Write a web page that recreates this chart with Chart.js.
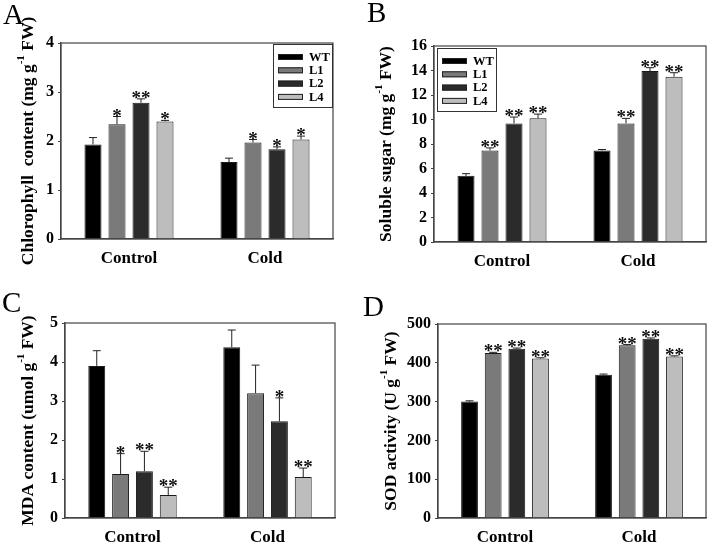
<!DOCTYPE html>
<html>
<head>
<meta charset="utf-8">
<script src="https://cdn.jsdelivr.net/npm/chart.js@4.4.1/dist/chart.umd.min.js"></script>
<style>
  body { margin: 0; background: #fff; }
  #wrap { position: relative; width: 709px; height: 542px; background: #fff; }
  canvas { position: absolute; }
</style>
</head>
<body>
<div id="wrap">
  <canvas id="chartA" width="354" height="271" style="left:0;top:0"></canvas>
  <canvas id="chartB" width="355" height="271" style="left:354px;top:0"></canvas>
  <canvas id="chartC" width="354" height="271" style="left:0;top:271px"></canvas>
  <canvas id="chartD" width="355" height="271" style="left:354px;top:271px"></canvas>
</div>
<script>
// datos comunes
const categories = ['Control', 'Cold'];
const lines = ['WT', 'L1', 'L2', 'L4'];
const lineColors = ['#000000', '#7a7a7a', '#2b2b2b', '#bdbdbd'];

// A - clorofila
const chlMean = { WT: [1.93, 1.57], L1: [2.34, 1.97], L2: [2.78, 1.83], L4: [2.40, 2.03] };
const chlErr  = { WT: [0.14, 0.08], L1: [0.16, 0.06], L2: [0.08, 0.05], L4: [0.02, 0.07] };
const chlStars = { WT: ['', ''], L1: ['*', '*'], L2: ['**', '*'], L4: ['*', '*'] };

// B - azucar soluble
const sugarMean = { WT: [5.40, 7.47], L1: [7.47, 9.68], L2: [9.68, 13.96], L4: [10.10, 13.49] };
const sugarErr  = { WT: [0.18, 0.08], L1: [0.21, 0.41], L2: [0.52, 0.27], L4: [0.34, 0.33] };
const sugarStars = { WT: ['', ''], L1: ['**', '**'], L2: ['**', '**'], L4: ['**', '**'] };

// C - MDA
const mdaMean = { WT: [3.90, 4.38], L1: [1.13, 3.20], L2: [1.20, 2.48], L4: [0.59, 1.05] };
const mdaErr  = { WT: [0.39, 0.44], L1: [0.52, 0.72], L2: [0.51, 0.60], L4: [0.20, 0.23] };
const mdaStars = { WT: ['', ''], L1: ['*', ''], L2: ['**', '*'], L4: ['**', '**'] };

// D - SOD
const sodMean = { WT: [300, 369], L1: [425, 445], L2: [436, 462], L4: [411, 416] };
const sodErr  = { WT: [2, 2], L1: [2, 2], L2: [2, 2], L4: [2, 2] };
const sodStars = { WT: ['', ''], L1: ['**', '**'], L2: ['**', '**'], L4: ['**', '**'] };

const SERIF = '"Liberation Serif", "Times New Roman", serif';

// plugin para caja, barras de error, asteriscos, leyenda y titulos
const extrasPlugin = {
    id: 'extras',
    afterDraw(chart, args, opts) {
        const ctx = chart.ctx;
        const a = chart.chartArea;
        const yScale = chart.scales.y;
        ctx.save();

        // caja alrededor del area
        ctx.strokeStyle = '#444';
        ctx.lineWidth = 1.2;
        ctx.strokeRect(a.left, a.top, a.right - a.left, a.bottom - a.top);

        // barras de error y asteriscos
        chart.data.datasets.forEach((ds, i) => {
            const meta = chart.getDatasetMeta(i);
            meta.data.forEach((bar, j) => {
                const top = yScale.getPixelForValue(ds.data[j] + ds.err[j]);
                ctx.strokeStyle = '#222';
                ctx.lineWidth = 1;
                ctx.beginPath();
                ctx.moveTo(bar.x, bar.y);
                ctx.lineTo(bar.x, top);
                ctx.moveTo(bar.x - 4, top);
                ctx.lineTo(bar.x + 4, top);
                ctx.stroke();
                if (ds.stars[j]) {
                    ctx.fillStyle = '#111';
                    ctx.font = 'bold 19px ' + SERIF;
                    ctx.textAlign = 'center';
                    ctx.textBaseline = 'alphabetic';
                    ctx.fillText(ds.stars[j], bar.x, top + 5);
                }
            });
        });

        // leyenda
        if (opts.legend) {
            const lg = opts.legend;
            const bx = lg.side === 'right' ? a.right - 1 - lg.w : a.left + 3;
            const by = a.top + lg.dy;
            ctx.fillStyle = '#fff';
            ctx.fillRect(bx, by, lg.w, lg.h);
            ctx.strokeStyle = '#333';
            ctx.lineWidth = 1;
            ctx.strokeRect(bx + 0.5, by + 0.5, lg.w, lg.h);
            chart.data.datasets.forEach((ds, i) => {
                const cy = by + 13 + i * 13.3;
                ctx.fillStyle = ds.backgroundColor;
                ctx.fillRect(bx + 5, cy - 3, 25, 6);
                ctx.strokeStyle = '#222';
                ctx.strokeRect(bx + 5.5, cy - 2.5, 24, 5);
                ctx.fillStyle = '#000';
                ctx.font = 'bold 12.5px ' + SERIF;
                ctx.textAlign = 'left';
                ctx.textBaseline = 'middle';
                ctx.fillText(ds.label, bx + 36, cy + 0.5);
            });
        }

        // titulo eje y con superindice
        const t = opts.title;
        const mainFont = 'bold 17.5px ' + SERIF;
        const supFont = 'bold 11px ' + SERIF;
        ctx.font = mainFont;
        const w1 = ctx.measureText(t[0]).width;
        const w3 = ctx.measureText(t[2]).width;
        ctx.font = supFont;
        const w2 = ctx.measureText(t[1]).width;
        const total = w1 + w2 + w3;
        ctx.translate(opts.titleX, (a.top + a.bottom) / 2);
        ctx.rotate(-Math.PI / 2);
        ctx.fillStyle = '#000';
        ctx.textAlign = 'left';
        ctx.textBaseline = 'middle';
        let x = -total / 2;
        ctx.font = mainFont;
        ctx.fillText(t[0], x, 0);
        x += w1;
        ctx.font = supFont;
        ctx.fillText(t[1], x, -7);
        x += w2;
        ctx.font = mainFont;
        ctx.fillText(t[2], x, 0);
        ctx.setTransform(1, 0, 0, 1, 0, 0);

        // letra del panel
        ctx.fillStyle = '#000';
        ctx.font = '29px ' + SERIF;
        ctx.textAlign = 'left';
        ctx.textBaseline = 'top';
        ctx.fillText(opts.letter, opts.letterPos[0], opts.letterPos[1]);
        ctx.restore();
    }
};

function makePanel(id, means, errs, stars, cfg) {
    const datasets = lines.map((name, i) => ({
        label: name,
        data: means[name],
        err: errs[name],
        stars: stars[name],
        backgroundColor: lineColors[i],
        borderColor: '#1a1a1a',
        borderWidth: 1,
        categoryPercentage: 0.706,
        barPercentage: 0.71
    }));
    return new Chart(document.getElementById(id), {
        type: 'bar',
        data: { labels: categories, datasets: datasets },
        options: {
            responsive: false,
            animation: false,
            layout: { padding: { top: cfg.top, right: cfg.right, left: 0, bottom: 0 } },
            plugins: {
                legend: { display: false },
                tooltip: { enabled: false },
                extras: {
                    legend: cfg.legend,
                    title: cfg.title,
                    titleX: cfg.titleX,
                    letter: cfg.letter,
                    letterPos: cfg.letterPos
                }
            },
            scales: {
                x: {
                    grid: { display: false, drawTicks: false },
                    border: { color: '#444', width: 1.2 },
                    ticks: { font: { family: SERIF, size: 17, weight: 'bold' }, color: '#000', padding: 9 },
                    afterFit: s => { s.height = cfg.xHeight; }
                },
                y: {
                    min: 0,
                    max: cfg.max,
                    grid: { drawOnChartArea: false, drawTicks: true, tickLength: 3, color: '#444' },
                    border: { color: '#444', width: 1.2 },
                    ticks: { stepSize: cfg.step, font: { family: SERIF, size: 16, weight: 'bold' }, color: '#000', padding: 4 },
                    afterFit: s => { s.width = cfg.yWidth; }
                }
            }
        },
        plugins: [extrasPlugin]
    });
}

makePanel('chartA', chlMean, chlErr, chlStars, {
    top: 43, right: 21, yWidth: 61, xHeight: 32, max: 4, step: 1,
    legend: { side: 'right', w: 59, h: 63, dy: 1 },
    title: ['Chlorophyll  content (mg g', '-1', ' FW)'], titleX: 28,
    letter: 'A', letterPos: [3, 2]
});
makePanel('chartB', sugarMean, sugarErr, sugarStars, {
    top: 46, right: 3, yWidth: 80, xHeight: 29, max: 16, step: 2,
    legend: { side: 'left', w: 59, h: 63, dy: 2 },
    title: ['Soluble sugar (mg g', '-1', ' FW)'], titleX: 32,
    letter: 'B', letterPos: [13, 0]
});
makePanel('chartC', mdaMean, mdaErr, mdaStars, {
    top: 52, right: 19, yWidth: 65, xHeight: 24, max: 5, step: 1,
    legend: null,
    title: ['MDA content (umol g', '-1', ' FW)'], titleX: 28,
    letter: 'C', letterPos: [2, 19]
});
makePanel('chartD', sodMean, sodErr, sodStars, {
    top: 53, right: 3, yWidth: 84, xHeight: 24, max: 500, step: 100,
    legend: null,
    title: ['SOD activity (U g', '-1', ' FW)'], titleX: 37,
    letter: 'D', letterPos: [9, 23]
});
</script>
</body>
</html>
